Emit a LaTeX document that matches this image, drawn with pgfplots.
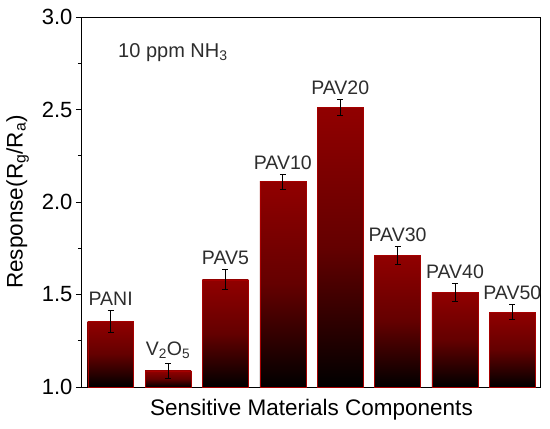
\documentclass[border=0pt]{standalone}
\usepackage{pgfplots}
\pgfplotsset{compat=1.18}
\usepackage{fontspec}
\setmainfont{Liberation Sans}
\definecolor{bartop}{RGB}{145,0,0}
\definecolor{barmid}{RGB}{100,0,0}
\definecolor{baredge}{RGB}{165,0,0}
\definecolor{labgray}{RGB}{45,45,45}
\begin{document}
\begin{tikzpicture}
\path[use as bounding box] (-82pt,-42pt) rectangle (468pt,387pt);
\begin{axis}[
  at={(0,0)}, anchor=south west,
  scale only axis, width=459pt, height=370pt,
  xmin=-0.5, xmax=7.5, ymin=1.0, ymax=3.0,
  axis line style={line width=1pt},
  xtick=\empty,
  ytick={1.0,1.5,2.0,2.5,3.0},
  minor ytick={1.25,1.75,2.25,2.75},
  yticklabel style={/pgf/number format/fixed,/pgf/number format/fixed zerofill,/pgf/number format/precision=1},
  /pgf/number format/assume math mode=true,
  ytick pos=left,
  tick align=outside,
  major tick length=6pt, minor tick length=4pt,
  tick style={line width=0.9pt, black},
  ticklabel style={font=\fontsize{22}{24}\selectfont},
  xlabel={Sensitive Materials Components},
  ylabel={Response(R\textsubscript{g}/R\textsubscript{a})},
  label style={font=\fontsize{22.5}{25}\selectfont},
  xlabel style={yshift=-3pt},
  ylabel style={yshift=6pt},
  clip=false,
  barstyle/.style={ybar, bar width=0.8, bar shift=0pt, draw=baredge, line width=0.4pt,
    top color=bartop, bottom color=black, middle color=barmid,
    error bars/.cd, y dir=both, y explicit,
    error bar style={black, line width=0.8pt},
    error mark options={rotate=90, mark size=3pt, black, line width=0.8pt}},
]
\addplot[barstyle] coordinates {(0,1.355) +- (0,0.06)};
\addplot[barstyle] coordinates {(1,1.088) +- (0,0.04)};
\addplot[barstyle] coordinates {(2,1.580) +- (0,0.055)};
\addplot[barstyle] coordinates {(3,2.110) +- (0,0.04)};
\addplot[barstyle] coordinates {(4,2.512) +- (0,0.045)};
\addplot[barstyle] coordinates {(5,1.712) +- (0,0.048)};
\addplot[barstyle] coordinates {(6,1.512) +- (0,0.048)};
\addplot[barstyle] coordinates {(7,1.405) +- (0,0.04)};
\addplot[only marks, mark=none, nodes near coords, point meta=explicit symbolic,
  nodes near coords style={anchor=south, font=\fontsize{19.5}{21}\selectfont, text=labgray, yshift=1pt}]
 table[meta=lab] {
 x y lab
 0 1.415 PANI
 1 1.128 V\textsubscript{2}O\textsubscript{5}
 2 1.635 PAV5
 3 2.150 PAV10
 4 2.557 PAV20
 5 1.760 PAV30
 6 1.560 PAV40
 7 1.445 PAV50
 };
\node[anchor=base west, font=\fontsize{20}{22}\selectfont, text=labgray] at (axis cs:0.07,2.78) {10 ppm NH\textsubscript{3}};
\end{axis}
\end{tikzpicture}
\end{document}
